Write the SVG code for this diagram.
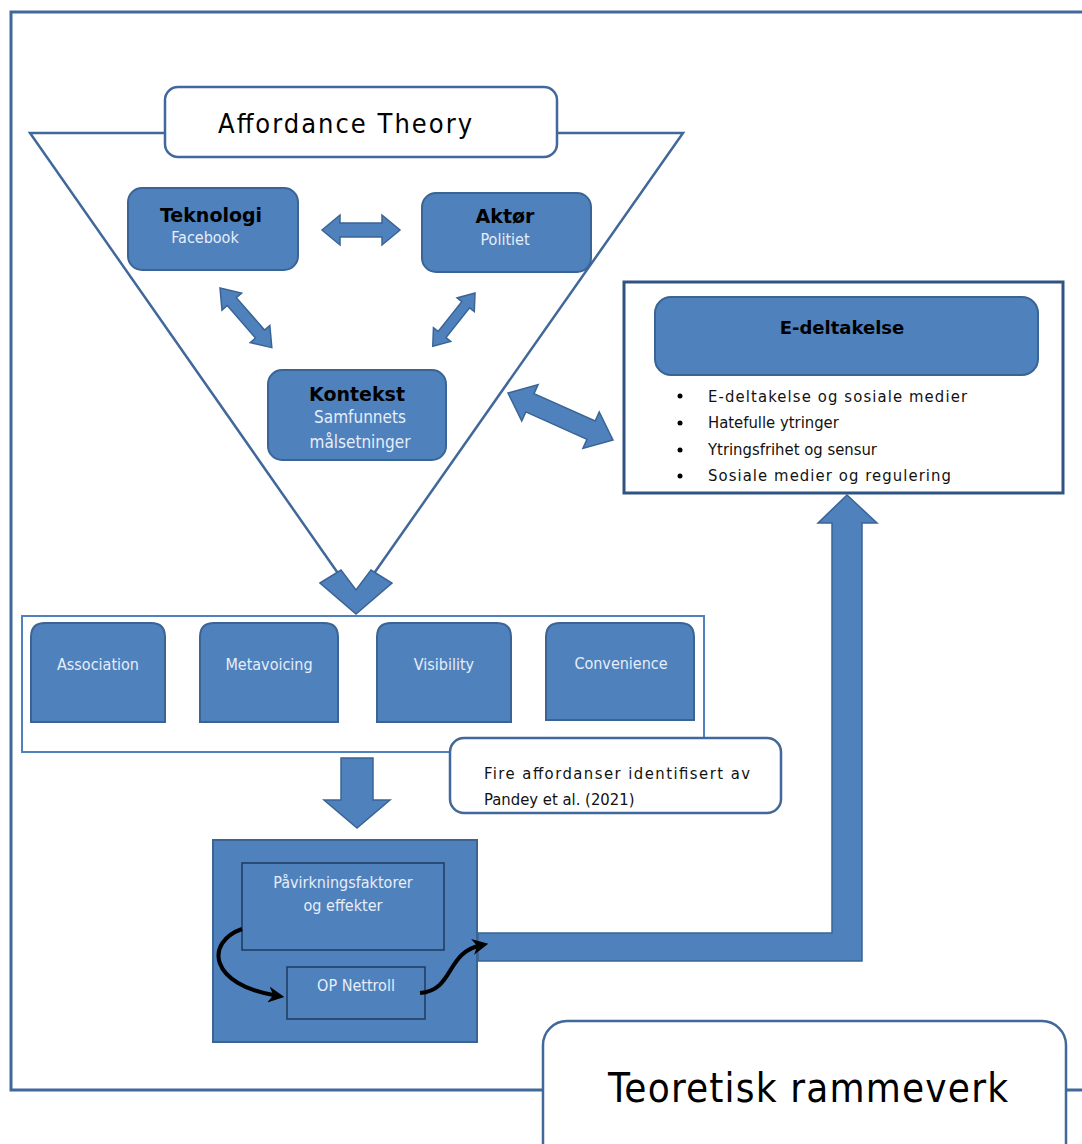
<svg xmlns="http://www.w3.org/2000/svg" width="1082" height="1144" viewBox="0 0 1082 1144">
<defs>
<style>
.frame{fill:none;stroke:#41689A;stroke-width:3}
.blue{fill:#4F81BD;stroke:#3A6494;stroke-width:2}
.arrow{fill:#4F81BD;stroke:#3A6494;stroke-width:1.5}
.white{fill:#fff;stroke:#41689A;stroke-width:2.5}
.hd{font-family:"DejaVu Sans","Liberation Sans",sans-serif;font-weight:bold;fill:#000}
.wt{font-family:"DejaVu Sans Condensed","DejaVu Sans",sans-serif;fill:#E6EEF8}
.bk{font-family:"DejaVu Sans Condensed","DejaVu Sans",sans-serif;fill:#111}
.curve{fill:none;stroke:#000;stroke-width:4}
</style>
<marker id="ah" viewBox="0 0 10 10" refX="6" refY="5" markerWidth="4" markerHeight="4" orient="auto" markerUnits="strokeWidth">
<path d="M0,0 L10,5 L0,10 L3,5 Z" fill="#000"/>
</marker>
</defs>
<rect width="1082" height="1144" fill="#fff"/>

<g id="frame">
<path class="frame" d="M1082,12 H11 V1090 H543"/>
<path class="frame" d="M1066,1090 H1082"/>
</g>

<g id="triangle">
<path d="M30,133 L683,133 L356,599 Z" fill="none" stroke="#41689A" stroke-width="2.5"/>
<polygon class="arrow" points="320,583 341,570 356,590 371,570 392,583 356,614"/>
</g>

<g id="affordance-theory">
<rect class="white" x="165" y="87" width="392" height="70" rx="13"/>
<text x="345" y="133" text-anchor="middle" font-family="DejaVu Sans Condensed,DejaVu Sans,sans-serif" font-size="27" fill="#000" textLength="254">Affordance Theory</text>
</g>

<g id="teknologi">
<rect class="blue" x="128" y="188" width="170" height="82" rx="14"/>
<text class="hd" x="211" y="222" text-anchor="middle" font-size="19">Teknologi</text>
<text class="wt" x="205" y="243" text-anchor="middle" font-size="16">Facebook</text>
</g>

<g id="aktor">
<rect class="blue" x="422" y="193" width="169" height="79" rx="14"/>
<text class="hd" x="505" y="223" text-anchor="middle" font-size="19">Aktør</text>
<text class="wt" x="505" y="245" text-anchor="middle" font-size="16">Politiet</text>
</g>

<g id="kontekst">
<rect class="blue" x="268" y="370" width="178" height="90" rx="14"/>
<text class="hd" x="357" y="401" text-anchor="middle" font-size="19">Kontekst</text>
<text class="wt" x="360" y="423" text-anchor="middle" font-size="17">Samfunnets</text>
<text class="wt" x="360" y="448" text-anchor="middle" font-size="17">målsetninger</text>
</g>

<g id="e-deltakelse">
<rect x="624" y="282" width="439" height="211" fill="#fff" stroke="#2F5483" stroke-width="3"/>
<rect class="blue" x="655" y="297" width="383" height="78" rx="16"/>
<text class="hd" x="842" y="334" text-anchor="middle" font-size="18">E-deltakelse</text>
<g class="bk" font-size="16.5">
<circle cx="680" cy="396" r="2.5" fill="#000"/>
<circle cx="680" cy="423" r="2.5" fill="#000"/>
<circle cx="680" cy="450" r="2.5" fill="#000"/>
<circle cx="680" cy="476" r="2.5" fill="#000"/>
<text x="708" y="402" textLength="259">E-deltakelse og sosiale medier</text>
<text x="708" y="428">Hatefulle ytringer</text>
<text x="708" y="455">Ytringsfrihet og sensur</text>
<text x="708" y="481" textLength="243">Sosiale medier og regulering</text>
</g>
</g>

<g id="affordances">
<rect x="22" y="616" width="682" height="136" fill="#fff" stroke="#4F81BD" stroke-width="2"/>
<g id="association">
<path class="blue" d="M31,722 V637 Q31,623 45,623 H151 Q165,623 165,637 V722 Z"/>
<text class="wt" x="98" y="670" text-anchor="middle" font-size="16">Association</text>
</g>
<g id="metavoicing">
<path class="blue" d="M200,722 V637 Q200,623 214,623 H324 Q338,623 338,637 V722 Z"/>
<text class="wt" x="269" y="670" text-anchor="middle" font-size="16">Metavoicing</text>
</g>
<g id="visibility">
<path class="blue" d="M377,722 V637 Q377,623 391,623 H497 Q511,623 511,637 V722 Z"/>
<text class="wt" x="444" y="670" text-anchor="middle" font-size="16">Visibility</text>
</g>
<g id="convenience">
<path class="blue" d="M546,720 V637 Q546,623 560,623 H680 Q694,623 694,637 V720 Z"/>
<text class="wt" x="621" y="669" text-anchor="middle" font-size="16">Convenience</text>
</g>
</g>

<g id="note">
<rect class="white" x="450" y="738" width="331" height="75" rx="14"/>
<text class="bk" x="484" y="779" font-size="16.5" textLength="266">Fire affordanser identifisert av</text>
<text class="bk" x="484" y="805" font-size="16.5">Pandey et al. (2021)</text>
</g>

<g id="impact">
<rect class="blue" x="213" y="840" width="264" height="202"/>
<g id="pavirkning">
<rect x="242" y="863" width="202" height="87" fill="#4F81BD" stroke="#1F3A5F" stroke-width="1.5"/>
<text class="wt" x="343" y="888" text-anchor="middle" font-size="16">Påvirkningsfaktorer</text>
<text class="wt" x="343" y="911" text-anchor="middle" font-size="16">og effekter</text>
</g>
<g id="op-nettroll">
<rect x="287" y="967" width="138" height="52" fill="#4F81BD" stroke="#1F3A5F" stroke-width="1.5"/>
<text class="wt" x="356" y="991" text-anchor="middle" font-size="16">OP Nettroll</text>
</g>
</g>

<g id="teoretisk">
<rect class="white" x="543" y="1021" width="523" height="150" rx="24"/>
<text x="808" y="1102" text-anchor="middle" font-family="DejaVu Sans Condensed,DejaVu Sans,sans-serif" font-size="40" fill="#000" textLength="400">Teoretisk rammeverk</text>
</g>

<g id="connectors">
<polygon class="arrow" transform="translate(322,230)" points="0,0 18,-15 18,-7 60,-7 60,-15 78,0 60,15 60,7 18,7 18,15"/>
<polygon class="arrow" transform="translate(220,288) rotate(49)" points="0,0 18,-13 18,-6 61,-6 61,-13 79,0 61,13 61,6 18,6 18,13"/>
<polygon class="arrow" transform="translate(475,293) rotate(128.4)" points="0,0 15,-11 15,-5 53,-5 53,-11 68,0 53,11 53,5 15,5 15,11"/>
<polygon class="arrow" transform="translate(508,393) rotate(24.1)" points="0,0 24,-20 24,-10 91,-10 91,-20 115,0 91,20 91,10 24,10 24,20"/>
<polygon class="arrow" points="341,758 373,758 373,800 390,800 357,828 324,800 341,800"/>
<polygon class="arrow" points="478,933 832,933 832,523 818,523 847,495 877,523 862,523 862,961 478,961"/>
<path class="curve" d="M242,929 C205,942 208,985 278,996" marker-end="url(#ah)"/>
<path class="curve" d="M420,993 C455,990 445,952 482,945" marker-end="url(#ah)"/>
</g>
</svg>
